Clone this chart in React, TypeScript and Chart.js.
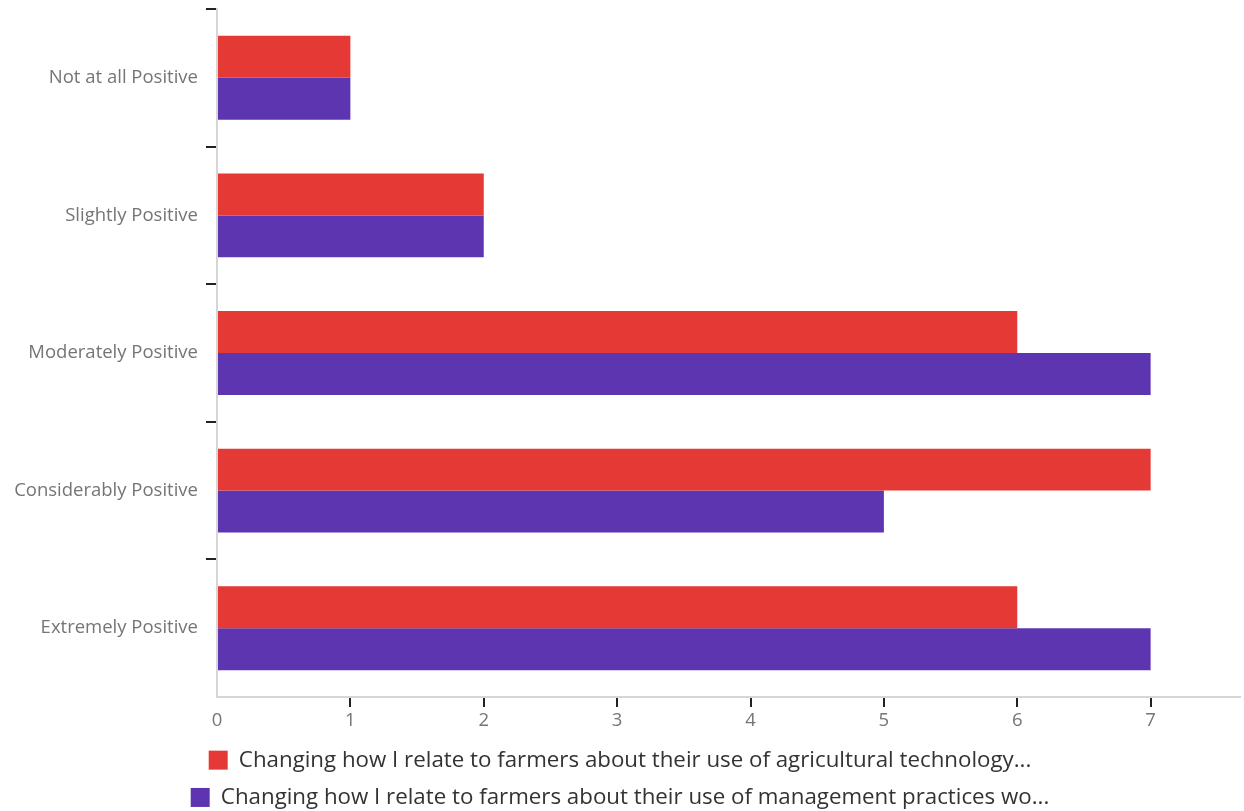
import React, { useEffect, useRef } from "react";
import { Chart, registerables } from "chart.js";

Chart.register(...registerables);

const categories = [
  "Not at all Positive",
  "Slightly Positive",
  "Moderately Positive",
  "Considerably Positive",
  "Extremely Positive",
];
const seriesNames = [
  "Changing how I relate to farmers about their use of agricultural technology...",
  "Changing how I relate to farmers about their use of management practices wo...",
];
const technologyValues = [1, 2, 6, 7, 6];
const practicesValues = [1, 2, 7, 5, 7];
const xTickValues = [0, 1, 2, 3, 4, 5, 6, 7];

const RED = "#E53935";
const PURPLE = "#5E35B1";

export default function App() {
  const canvasRef = useRef<HTMLCanvasElement | null>(null);

  useEffect(() => {
    document.body.style.margin = "0";
    const canvas = canvasRef.current;
    if (!canvas) return;
    const chart = new Chart(canvas, {
      type: "bar",
      data: {
        labels: categories,
        datasets: [
          {
            label: seriesNames[0],
            data: technologyValues,
            backgroundColor: RED,
            categoryPercentage: 0.61,
            barPercentage: 1,
          },
          {
            label: seriesNames[1],
            data: practicesValues,
            backgroundColor: PURPLE,
            categoryPercentage: 0.61,
            barPercentage: 1,
          },
        ],
      },
      options: {
        indexAxis: "y",
        animation: false,
        responsive: false,
        layout: { autoPadding: false, padding: { top: 9, right: 4, left: 0, bottom: 0 } },
        plugins: {
          tooltip: { enabled: false },
          legend: {
            position: "bottom",
            maxHeight: 77,
            labels: {
              boxWidth: 19,
              boxHeight: 19,
              padding: 15,
              color: "#333333",
              font: { family: "'Open Sans', sans-serif", size: 22.3 },
            },
          },
        },
        scales: {
          x: {
            min: 0,
            max: 7.67,
            afterBuildTicks: (scale: any) => {
              scale.ticks = xTickValues.map((v) => ({ value: v }));
            },
            afterFit: (scale: any) => {
              scale.height = 37;
              scale.paddingLeft = 0;
              scale.paddingRight = 0;
            },
            border: { display: true, color: "#d6d6d6", width: 2 },
            grid: {
              drawOnChartArea: false,
              drawTicks: true,
              tickLength: 10,
              lineWidth: 2,
              color: (ctx: any) =>
                ctx.tick && ctx.tick.value === 0 ? "rgba(0,0,0,0)" : "#222222",
            },
            ticks: {
              color: "#757575",
              padding: 3,
              font: { family: "'Open Sans', sans-serif", size: 18.5 },
            },
          },
          y: {
            afterFit: (scale: any) => {
              scale.width = 217;
              scale.paddingTop = 0;
              scale.paddingBottom = 0;
            },
            border: { display: true, color: "#d6d6d6", width: 2 },
            grid: {
              offset: true,
              drawOnChartArea: false,
              drawTicks: true,
              tickLength: 11,
              lineWidth: 2,
              color: (ctx: any) => (ctx.tick ? "#222222" : "rgba(0,0,0,0)"),
            },
            ticks: {
              color: "#757575",
              padding: 8,
              font: { family: "'Open Sans', sans-serif", size: 18.5 },
            },
          },
        },
      },
    });
    return () => chart.destroy();
  }, []);

  return (
    <div style={{ width: 1244, height: 811 }}>
      <canvas ref={canvasRef} width={1244} height={811} style={{ display: "block" }} />
    </div>
  );
}
